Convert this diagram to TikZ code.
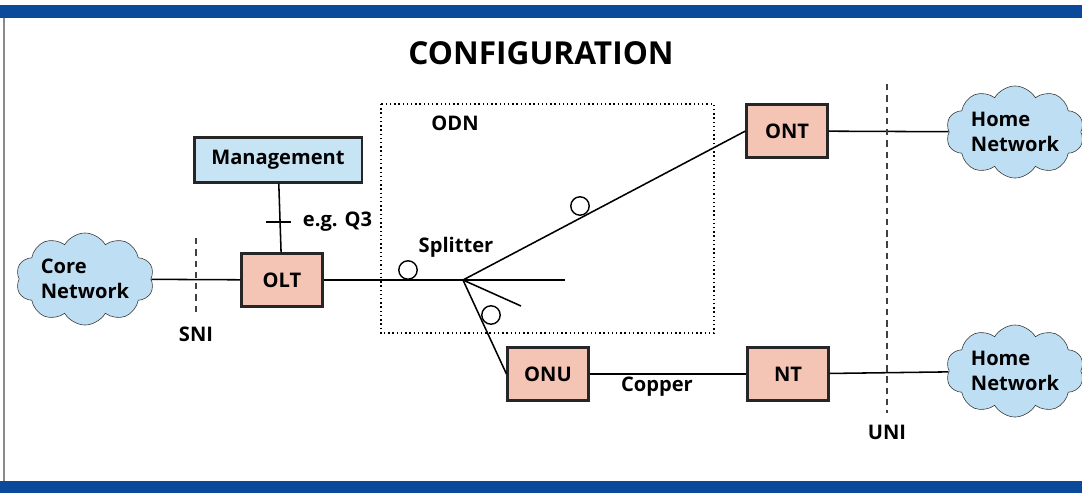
\documentclass[tikz,border=0pt]{standalone}
\usepackage{fontspec}
\setmainfont{Open Sans}
\usepackage{xcolor}
\usepackage{tikz}
\usetikzlibrary{shapes.symbols, shapes.geometric, positioning, calc}
\definecolor{ponband}{HTML}{0B4A9B}
\definecolor{ponpink}{HTML}{F4C5B5}
\definecolor{ponblue}{HTML}{C7E4F5}
\definecolor{poncloud}{HTML}{BEDFF3}
\definecolor{pongray}{HTML}{8A8A8A}

\begin{document}
\begin{tikzpicture}[
  x=0.025cm, y=-0.025cm,
  unit/.style={
    rectangle,
    draw=black!85,
    line width=1.6pt,
    fill=#1,
    minimum width=2.02cm,
    minimum height=1.32cm,
    align=center,
    font=\fontsize{14.3}{17}\selectfont\bfseries
  },
  net/.style={
    cloud,
    cloud puffs=10,
    cloud puff arc=120,
    aspect=1.7,
    draw=black!80,
    fill=poncloud,
    minimum width=3.45cm,
    minimum height=2.05cm,
    inner sep=0pt,
    align=left,
    font=\fontsize{14.3}{18}\selectfont\bfseries
  },
  lbl/.style={font=\fontsize{14.3}{17}\selectfont\bfseries},
  ring/.style={circle, draw, line width=1pt, minimum size=0.46cm, inner sep=0pt},
  fibre/.style={line width=1.1pt},
  refline/.style={line width=1pt, black!75, dash pattern=on 4.5pt off 3.5pt}
]
  \useasboundingbox (0,0) rectangle (1082,493);
  % frame
  \fill[ponband] (0,5) rectangle (1082,18);
  \fill[ponband] (0,481) rectangle (1082,493);
  \draw[pongray, line width=0.8pt] (4,18) -- (4,481);
  \node[font=\fontsize{22.5}{26}\selectfont\bfseries] (title) at (541,53) {CONFIGURATION};

  % ODN area
  \draw[dotted, line width=1pt] (381,104) rectangle (714,333);
  \node[lbl] (odn) at (455,123) {ODN};

  % equipment
  \node[unit=ponblue, minimum width=4.18cm, minimum height=1.12cm] (mgmt) at (278,160) {Management};
  \node[unit=ponpink] (olt) at (282,280) {OLT};
  \node[unit=ponpink] (ont) at (787,131) {ONT};
  \node[unit=ponpink] (onu) at (548,374) {ONU};
  \node[unit=ponpink] (nt) at (788,374) {NT};

  % clouds
  \node[net] (core) at (85,279) {Core\\Network};
  \node[net] (home1) at (1015,132) {Home\\Network};
  \node[net] (home2) at (1015,371) {Home\\Network};

  % splitter
  \coordinate (split) at (463,280);
  \coordinate (stub1) at (565,280);
  \coordinate (stub2) at (521,306);
  \node[lbl] (splab) at (456,247) {Splitter};

  % links
  \draw[fibre] (core) -- (olt);
  \draw[fibre] (mgmt) -- (olt);
  \draw[fibre] (266,222) -- (291,222);
  \node[lbl, anchor=west] (q3) at (298,222) {e.g. Q3};
  \draw[fibre] (olt) -- (split) -- (stub1);
  \draw[fibre] (split) -- (stub2);
  \draw[fibre] (split) -- (ont.west);
  \draw[fibre] (split) -- (onu.west);
  \draw[fibre] (ont) -- (home1);
  \draw[fibre] (onu) -- (nt);
  \node[lbl] (copper) at (657,387) {Copper};
  \draw[fibre] (nt) -- (home2);

  % fibre rings
  \node[ring] (ring1) at (408,270) {};
  \node[ring] (ring2) at (580,206) {};
  \node[ring] (ring3) at (491,315) {};

  % reference points
  \draw[refline] (196,238) -- (196,316);
  \node[lbl] (sni) at (196,334) {SNI};
  \draw[refline] (887,84) -- (887,413);
  \node[lbl] (uni) at (887,432) {UNI};
\end{tikzpicture}
\end{document}
